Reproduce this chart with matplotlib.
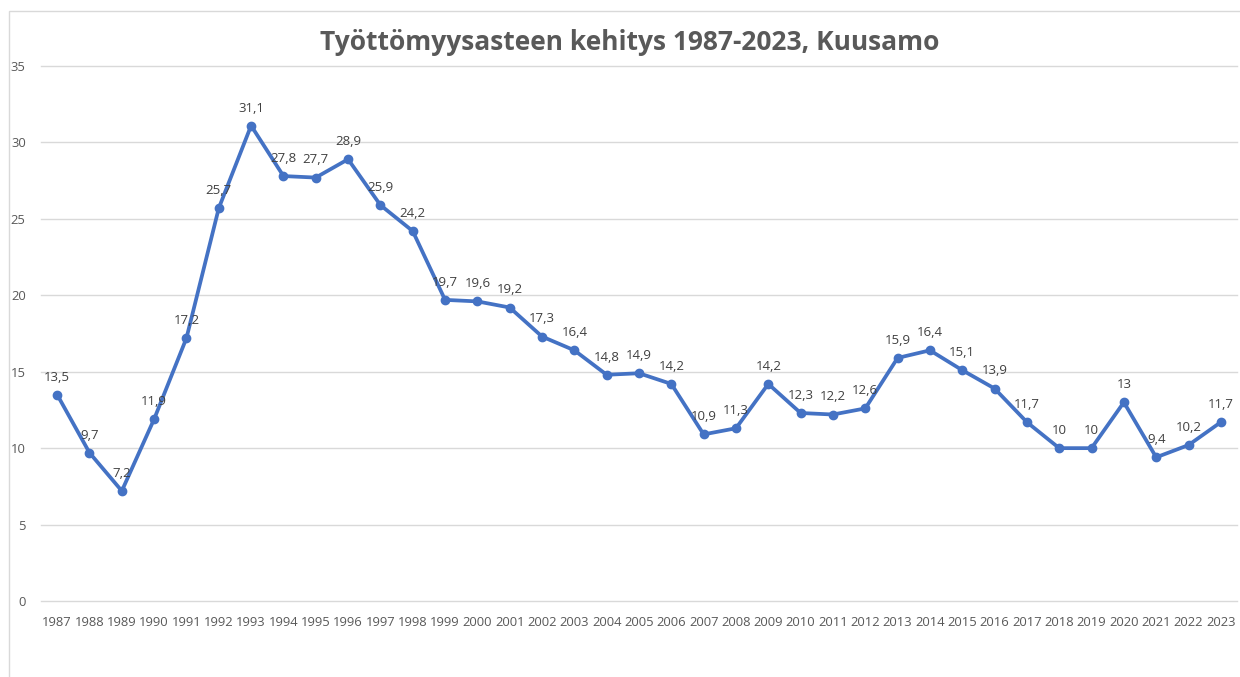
import matplotlib
matplotlib.use("Agg")
import matplotlib.pyplot as plt
from matplotlib.patches import Rectangle

years = [str(y) for y in range(1987, 2024)]
rate = [13.5, 9.7, 7.2, 11.9, 17.2, 25.7, 31.1, 27.8, 27.7, 28.9, 25.9, 24.2,
        19.7, 19.6, 19.2, 17.3, 16.4, 14.8, 14.9, 14.2, 10.9, 11.3, 14.2, 12.3,
        12.2, 12.6, 15.9, 16.4, 15.1, 13.9, 11.7, 10, 10, 13, 9.4, 10.2, 11.7]
yticks = [0, 5, 10, 15, 20, 25, 30, 35]

plt.rcParams['font.family'] = ['Open Sans', 'DejaVu Sans']

W, H = 1240, 677
fig = plt.figure(figsize=(W / 100, H / 100), dpi=100)

# light frame round the chart area
fig.patches.append(Rectangle((9 / W, -0.1), 1.2, 1 - 11 / H + 0.1, transform=fig.transFigure,
                             fill=False, edgecolor='#d9d9d9', linewidth=1))

ax = fig.add_axes([41 / W, 1 - 601 / H, (1237 - 41) / W, (601 - 66) / H])
x = list(range(len(years)))
ax.plot(x, rate, color='#4472C4', linewidth=2.7, marker='o', markersize=6, zorder=3)

for xi, v in zip(x, rate):
    lab = ('%g' % v).replace('.', ',')
    ax.annotate(lab, (xi, v), xytext=(0, 8), textcoords='offset points',
                ha='center', va='bottom', fontsize=9.5, color='#404040')

ax.set_xlim(-0.5, len(years) - 0.5)
ax.set_ylim(0, 35)
ax.set_yticks(yticks)
ax.set_xticks(x)
ax.set_xticklabels(years)
ax.grid(axis='y', color='#d9d9d9', linewidth=1)
for gl in ax.get_ygridlines():
    gl.set_clip_on(False)
ax.set_axisbelow(True)
for s in ax.spines.values():
    s.set_visible(False)
ax.tick_params(axis='both', length=0, labelsize=9.4, colors='#595959')
ax.tick_params(axis='y', pad=11)
ax.tick_params(axis='x', pad=11)

fig.text(0.5 + 10 / W, 1 - 43 / H, 'Työttömyysasteen kehitys 1987-2023, Kuusamo',
         ha='center', va='center', fontsize=19, fontweight='bold', color='#595959')

fig.savefig('out.png', dpi=100)
